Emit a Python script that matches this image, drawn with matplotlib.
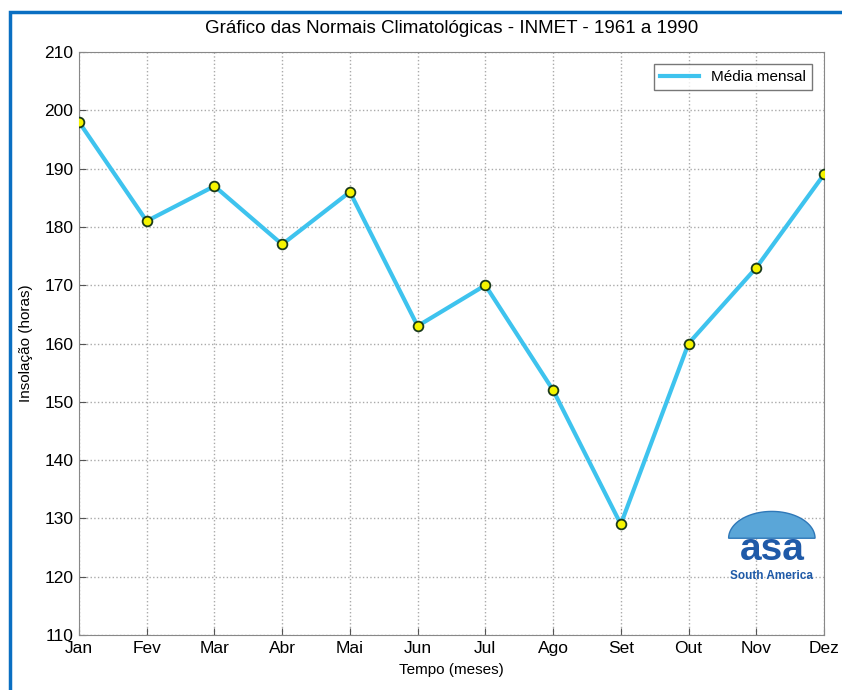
import numpy as np
import matplotlib.pyplot as plt
from matplotlib.patches import Rectangle, Polygon
from matplotlib.lines import Line2D

plt.rcParams['font.family'] = ['Liberation Sans', 'DejaVu Sans']

# normais climatologicas INMET 1961-1990, insolacao mensal
meses = ["Jan", "Fev", "Mar", "Abr", "Mai", "Jun", "Jul", "Ago", "Set", "Out", "Nov", "Dez"]
insolacao = [198, 181, 187, 177, 186, 163, 170, 152, 129, 160, 173, 189]
y_ticks = [110, 120, 130, 140, 150, 160, 170, 180, 190, 200, 210]

fig = plt.figure(figsize=(8.42, 6.9), dpi=100)
ax = fig.add_axes([0.0938, 0.0797, 0.8848, 0.8449])

x = list(range(1, len(meses) + 1))
ax.plot(x, insolacao, color="#3ec3ee", linewidth=3, marker="o",
        markersize=7, markerfacecolor="#f5f500", markeredgecolor="#1a3a1a",
        markeredgewidth=1.3, zorder=3)

ax.set_xlim(1, 12)
ax.set_ylim(110, 210)
ax.set_xticks(x)
ax.set_xticklabels(meses)
ax.set_yticks(y_ticks)
ax.tick_params(direction="in", length=5, labelsize=12.5, color="#555555", pad=4)
ax.grid(True, linestyle=":", color="#aaaaaa", linewidth=1)
for s in ax.spines.values():
    s.set_color("#888888")

ax.set_title("Gráfico das Normais Climatológicas - INMET - 1961 a 1990", fontsize=13.5, pad=14)
ax.set_xlabel("Tempo (meses)", fontsize=11, labelpad=5)
ax.set_ylabel("Insolação (horas)", fontsize=11, labelpad=8)

# legenda so com a linha
handle = Line2D([], [], color="#3ec3ee", linewidth=3)
leg = ax.legend([handle], ["Média mensal"], loc="upper right", fancybox=False,
                fontsize=11, handlelength=2.5, borderaxespad=0.8, edgecolor="#555555")
leg.get_frame().set_linewidth(1)

# logo asa South America
t = np.linspace(0, np.pi, 60)
dome = np.column_stack([0.930 + 0.058 * np.cos(t), 0.166 + 0.046 * np.sin(t)])
ax.add_patch(Polygon(dome, closed=True, transform=ax.transAxes,
                     facecolor="#5aa6d8", edgecolor="#2f78b8", linewidth=1, zorder=4))
ax.text(0.930, 0.128, "asa", transform=ax.transAxes, ha="center", va="baseline",
        fontsize=28, fontweight="bold", color="#1f5aa8", zorder=5)
ax.text(0.930, 0.101, "South America", transform=ax.transAxes, ha="center", va="center",
        fontsize=8.5, fontweight="bold", color="#1f5aa8", zorder=5)

# moldura azul
fig.patches.append(Rectangle((10 / 842, -0.1), 1.2, 1 - 12 / 690 + 0.1,
                             transform=fig.transFigure, fill=False,
                             edgecolor="#0a6fc2", linewidth=2.5))

fig.savefig("out.png", dpi=100)
